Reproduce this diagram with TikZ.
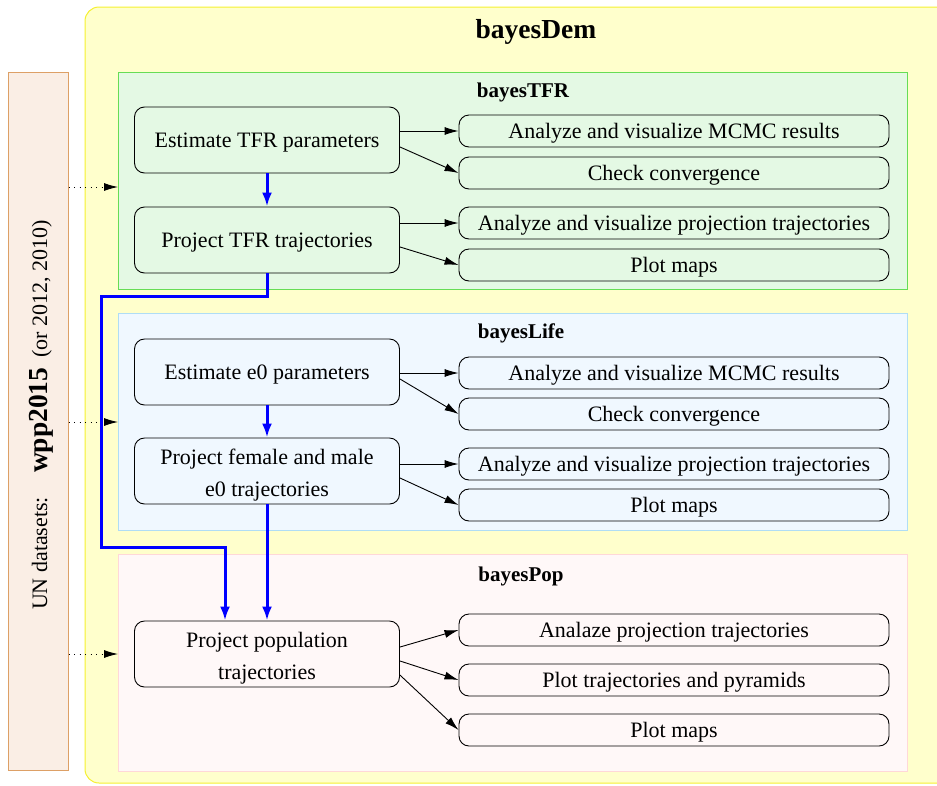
\documentclass[tikz,border=0pt]{standalone}
\usepackage{fontspec}
\setmainfont{Liberation Serif}
\usetikzlibrary{arrows.meta}

\definecolor{demfill}{HTML}{FFFFCC}
\definecolor{demline}{HTML}{F5F030}
\definecolor{unfill}{HTML}{FAEEE5}
\definecolor{unline}{HTML}{DDA066}
\definecolor{tfrfill}{HTML}{E4F9E4}
\definecolor{tfrline}{HTML}{66DD55}
\definecolor{lifefill}{HTML}{F0F8FF}
\definecolor{lifeline}{HTML}{B0DDF5}
\definecolor{popfill}{HTML}{FFF8F8}
\definecolor{popline}{HTML}{FFD8D8}

\begin{document}
\begin{tikzpicture}[x=1pt,y=-1pt]
	\tikzstyle{every node}+=[inner sep=0pt]
	\tikzstyle{frame}=[draw, line width=1pt, minimum width=789pt, minimum height=217pt]
	\tikzstyle{title}=[font=\fontsize{21}{21}\selectfont\bfseries]
	\tikzstyle{task}=[draw, line width=0.9pt, rounded corners=10pt, minimum width=265pt, minimum height=66pt, align=center, text height=18pt, text depth=4pt, font=\fontsize{22}{32}\selectfont]
	\tikzstyle{tasktwo}=[task, text height=54pt]
	\tikzstyle{result}=[draw, line width=0.9pt, rounded corners=10pt, minimum width=430pt, minimum height=32pt, text height=18pt, text depth=4pt, font=\fontsize{22}{26}\selectfont]
	\tikzstyle{link}=[line width=0.9pt, -{Latex[length=14pt,width=8pt]}]
	\tikzstyle{flow}=[blue, line width=3pt, -{Latex[length=14pt,width=10pt]}]
	\tikzstyle{feed}=[line width=0.9pt, dash pattern=on 1pt off 4.5pt, -{Latex[length=14pt,width=8pt]}]
	\clip (0,0) rectangle (937,785);
	% outer package box
	\draw [demline, fill=demfill, line width=1pt, rounded corners=14pt] (85,7) rectangle (960,783);
	\node [font=\fontsize{27.5}{27.5}\selectfont\bfseries] (demtitle) at (536,32) {bayesDem};
	% data sets
	\node [draw=unline, fill=unfill, line width=1pt, minimum width=60pt, minimum height=698pt] (undata) at (38,421) {};
	\node [rotate=90, font=\fontsize{22}{22}\selectfont] (untext) at (41,415) {UN datasets:\hspace{24pt}{\fontsize{27.5}{27.5}\selectfont\bfseries wpp2015}\hspace{10pt}(or 2012, 2010)};
	% frames
	\node [frame, draw=tfrline, fill=tfrfill] (tfrframe) at (512.5,181) {};
	\node [frame, draw=lifeline, fill=lifefill] (lifeframe) at (512.5,421.5) {};
	\node [frame, draw=popline, fill=popfill] (popframe) at (512.5,662.5) {};
	\node [title] (tfrtitle) at (523,92) {bayesTFR};
	\node [title] (lifetitle) at (521,333) {bayesLife};
	\node [title] (poptitle) at (521,576) {bayesPop};
	% bayesTFR
	\node [task] (tfrest) at (267,140) {Estimate TFR parameters};
	\node [task] (tfrproj) at (267,240) {Project TFR trajectories};
	\node [result] (tfrmcmc) at (674,131) {Analyze and visualize MCMC results};
	\node [result] (tfrconv) at (674,173) {Check convergence};
	\node [result] (tfrtraj) at (674,223) {Analyze and visualize projection trajectories};
	\node [result] (tfrmaps) at (674,265) {Plot maps};
	% bayesLife
	\node [task] (lifeest) at (267,372) {Estimate e0 parameters};
	\node [tasktwo] (lifeproj) at (267,471) {Project female and male\\e0 trajectories};
	\node [result] (lifemcmc) at (674,373) {Analyze and visualize MCMC results};
	\node [result] (lifeconv) at (674,414) {Check convergence};
	\node [result] (lifetraj) at (674,464) {Analyze and visualize projection trajectories};
	\node [result] (lifemaps) at (674,505) {Plot maps};
	% bayesPop
	\node [tasktwo] (popproj) at (267,654) {Project population\\trajectories};
	\node [result] (poptraj) at (674,630) {Analaze projection trajectories};
	\node [result] (poppyr) at (674,680) {Plot trajectories and pyramids};
	\node [result] (popmaps) at (674,730) {Plot maps};
	% inputs
	\coordinate (tfrin) at (118,187);
	\coordinate (lifein) at (118,422);
	\coordinate (popin) at (118,654);
	\draw [feed] (undata.east |- tfrin) -- (tfrin);
	\draw [feed] (undata.east |- lifein) -- (lifein);
	\draw [feed] (undata.east |- popin) -- (popin);
	% results
	\draw [link] (tfrest.east |- tfrmcmc) -- (tfrmcmc.west);
	\draw [link] (tfrest.-3.5) -- (tfrconv.west);
	\draw [link] (tfrproj.east |- tfrtraj) -- (tfrtraj.west);
	\draw [link] (tfrproj.-3.5) -- (tfrmaps.west);
	\draw [link] (lifeest.east |- lifemcmc) -- (lifemcmc.west);
	\draw [link] (lifeest.-3.5) -- (lifeconv.west);
	\draw [link] (lifeproj.east |- lifetraj) -- (lifetraj.west);
	\draw [link] (lifeproj.-3.5) -- (lifemaps.west);
	\draw [link] (popproj.3.5) -- (poptraj.west);
	\draw [link] (popproj.-3.9) -- (poppyr.west);
	\draw [link] (popproj.-9.4) -- (popmaps.west);
	% main flow
	\coordinate (bendA) at (101,296);
	\coordinate (bendB) at (225,547);
	\draw [flow] (tfrest) -- (tfrproj);
	\draw [flow] (lifeest) -- (lifeproj);
	\draw [flow] (lifeproj) -- (lifeproj.south |- popproj.north);
	\draw [flow, rounded corners=0pt] (tfrproj.south) |- (bendA) |- (bendB) -- (bendB |- popproj.north);
\end{tikzpicture}
\end{document}
